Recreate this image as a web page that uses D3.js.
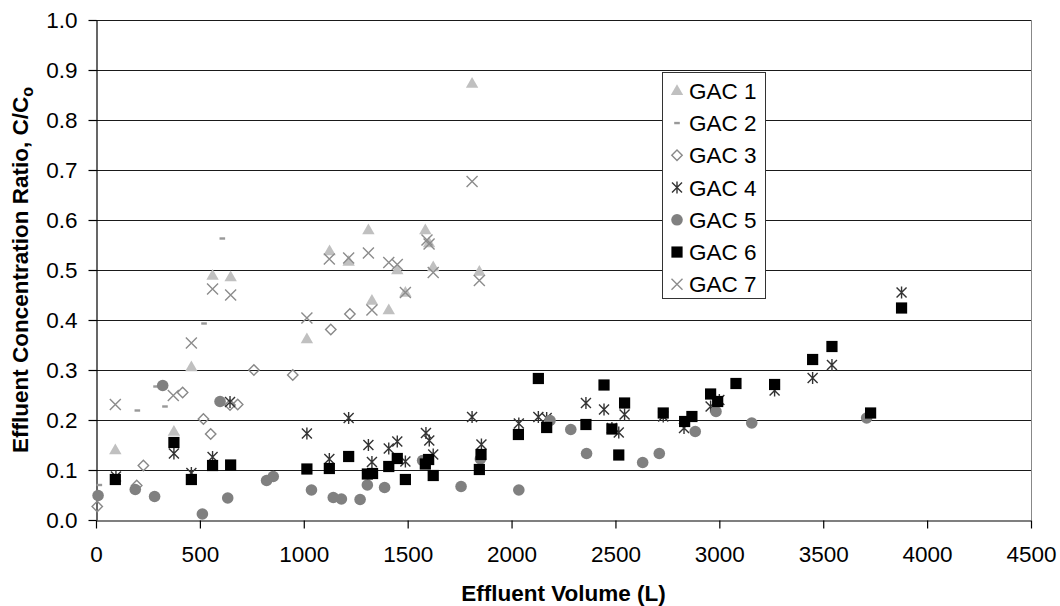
<!DOCTYPE html>
<html>
<head>
<meta charset="utf-8">
<script src="https://cdn.jsdelivr.net/npm/d3@7"></script>
<style>
  html, body { margin: 0; padding: 0; background: #fff; }
  svg { display: block; font-family: "Liberation Sans", Arial, Helvetica, sans-serif; }
</style>
</head>
<body>
<svg id="chart" width="1060" height="606"></svg>
<script>
// Effluent volume (L) vs. concentration ratio C/Co for each GAC column
const gac1 = [[93,0.14],[375,0.177],[459,0.306],[561,0.489],[648,0.486],[1015,0.362],[1124,0.538],[1216,0.517],[1311,0.58],[1328,0.439],[1409,0.42],[1450,0.50],[1489,0.455],[1585,0.58],[1603,0.554],[1623,0.506],[1810,0.873],[1845,0.497]];
const gac2 = [[16,0.07],[199,0.219],[289,0.267],[332,0.227],[520,0.393],[608,0.563]];
const gac3 = [[6,0.027],[196,0.069],[228,0.109],[417,0.255],[517,0.202],[552,0.172],[645,0.23],[682,0.231],[760,0.30],[947,0.29],[1130,0.381],[1222,0.412]];
const gac4 = [[96,0.087],[375,0.133],[459,0.094],[561,0.126],[645,0.236],[1015,0.173],[1123,0.122],[1216,0.204],[1311,0.15],[1328,0.116],[1409,0.143],[1450,0.157],[1489,0.117],[1588,0.174],[1604,0.159],[1623,0.131],[1810,0.206],[1855,0.151],[2035,0.193],[2129,0.206],[2169,0.204],[2358,0.234],[2445,0.221],[2483,0.184],[2516,0.175],[2544,0.211],[2730,0.207],[2830,0.184],[2958,0.227],[3000,0.24],[3266,0.259],[3449,0.284],[3542,0.31],[3877,0.455]];
const gac5 = [[10,0.049],[189,0.061],[282,0.047],[321,0.269],[512,0.012],[597,0.237],[634,0.044],[821,0.079],[853,0.087],[1037,0.06],[1142,0.045],[1181,0.042],[1271,0.041],[1306,0.07],[1389,0.065],[1572,0.119],[1757,0.067],[1850,0.122],[2035,0.06],[2185,0.199],[2285,0.181],[2361,0.133],[2631,0.115],[2711,0.133],[2884,0.177],[2984,0.217],[3156,0.194],[3709,0.204]];
const gac6 = [[93,0.081],[375,0.155],[459,0.081],[561,0.109],[648,0.11],[1015,0.102],[1123,0.103],[1216,0.127],[1306,0.092],[1331,0.093],[1409,0.107],[1450,0.123],[1489,0.081],[1585,0.112],[1601,0.121],[1623,0.089],[1845,0.101],[1853,0.131],[2033,0.171],[2129,0.283],[2169,0.185],[2358,0.191],[2445,0.27],[2483,0.182],[2516,0.13],[2544,0.234],[2730,0.214],[2833,0.197],[2868,0.207],[2958,0.252],[2992,0.237],[3080,0.273],[3266,0.271],[3449,0.321],[3542,0.347],[3728,0.214],[3877,0.424]];
const gac7 = [[93,0.231],[372,0.249],[459,0.354],[561,0.462],[648,0.45],[1015,0.404],[1123,0.522],[1216,0.524],[1311,0.534],[1328,0.42],[1409,0.515],[1450,0.511],[1489,0.455],[1593,0.56],[1603,0.552],[1623,0.495],[1810,0.677],[1845,0.479]];

const seriesNames = ["GAC 1","GAC 2","GAC 3","GAC 4","GAC 5","GAC 6","GAC 7"];
const seriesData = [gac1, gac2, gac3, gac4, gac5, gac6, gac7];
const xTicks = [0,500,1000,1500,2000,2500,3000,3500,4000,4500];
const yTicks = [0,0.1,0.2,0.3,0.4,0.5,0.6,0.7,0.8,0.9,1.0];

const svg = d3.select("#chart");
const plotLeft = 96, plotRight = 1031, plotTop = 20, plotBottom = 520;
const labelSize = 22.5;

const x = d3.scaleLinear().domain([0, 4500]).range([plotLeft, plotRight]);
const y = d3.scaleLinear().domain([0, 1]).range([plotBottom, plotTop]);

// horizontal gridlines
svg.append("g")
  .selectAll("line")
  .data(yTicks.filter(d => d > 0))
  .join("line")
  .attr("x1", plotLeft).attr("x2", plotRight)
  .attr("y1", d => Math.round(y(d)) + 0.5).attr("y2", d => Math.round(y(d)) + 0.5)
  .attr("stroke", "#1a1a1a").attr("stroke-width", 1);

// right border of plot area
svg.append("line")
  .attr("x1", plotRight + 0.5).attr("x2", plotRight + 0.5)
  .attr("y1", plotTop).attr("y2", plotBottom)
  .attr("stroke", "#888").attr("stroke-width", 1);

// axes
const xAxis = d3.axisBottom(x).tickValues(xTicks).tickFormat(d3.format("d")).tickSizeInner(8).tickSizeOuter(0).tickPadding(18);
const yAxis = d3.axisLeft(y).tickValues(yTicks).tickFormat(d3.format(".1f")).tickSizeInner(8).tickSizeOuter(0).tickPadding(11);

const gx = svg.append("g").attr("transform", `translate(0,${plotBottom + 0.5})`).call(xAxis);
const gy = svg.append("g").attr("transform", `translate(${plotLeft + 0.5},0)`).call(yAxis);
[gx, gy].forEach(g => {
  g.selectAll("path.domain").attr("stroke", "#000").attr("stroke-width", 1.2);
  g.selectAll(".tick line").attr("stroke", "#000").attr("stroke-width", 1.2);
  g.selectAll(".tick text").attr("font-size", labelSize).attr("fill", "#000")
    .attr("font-family", "'Liberation Sans', Arial, sans-serif");
});

// axis titles
svg.append("text")
  .attr("x", (plotLeft + plotRight) / 2).attr("y", 601)
  .attr("text-anchor", "middle")
  .attr("font-size", labelSize).attr("font-weight", "bold")
  .text("Effluent Volume (L)");

const yt = svg.append("text")
  .attr("transform", `translate(28,${(plotTop + plotBottom) / 2}) rotate(-90)`)
  .attr("text-anchor", "middle")
  .attr("font-size", labelSize).attr("font-weight", "bold");
yt.append("tspan").text("Effluent Concentration Ratio, C/C");
yt.append("tspan").attr("font-size", 16).attr("dy", 5).text("o");

// marker painters
const markers = [
  // GAC 1: light grey filled triangle
  g => g.append("path").attr("d", "M0,-6.5L6.2,4.3L-6.2,4.3Z").attr("fill", "#c0c0c0"),
  // GAC 2: short dash
  g => g.append("rect").attr("x", -2.8).attr("y", -1.2).attr("width", 5.6).attr("height", 2.4).attr("fill", "#999"),
  // GAC 3: open diamond
  g => g.append("path").attr("d", "M0,-5.2L5.2,0L0,5.2L-5.2,0Z").attr("fill", "none").attr("stroke", "#888").attr("stroke-width", 1.4),
  // GAC 4: star (x plus vertical bar)
  g => g.append("path").attr("d", "M-5,-5L5,5M-5,5L5,-5M0,-6L0,6").attr("fill", "none").attr("stroke", "#333").attr("stroke-width", 1.4),
  // GAC 5: grey filled circle
  g => g.append("circle").attr("r", 5.8).attr("fill", "#808080"),
  // GAC 6: black square
  g => g.append("rect").attr("x", -5.6).attr("y", -5.6).attr("width", 11.2).attr("height", 11.2).attr("fill", "#000"),
  // GAC 7: grey x
  g => g.append("path").attr("d", "M-5.5,-5.5L5.5,5.5M-5.5,5.5L5.5,-5.5").attr("fill", "none").attr("stroke", "#8c8c8c").attr("stroke-width", 1.4)
];

// data points, series drawn in order so later series sit on top
seriesData.forEach((data, i) => {
  svg.append("g").attr("class", "series-" + (i + 1))
    .selectAll("g")
    .data(data)
    .join("g")
    .attr("transform", d => `translate(${x(d[0])},${y(d[1])})`)
    .each(function() { markers[i](d3.select(this)); });
});

// legend
const legend = svg.append("g");
legend.append("rect")
  .attr("x", 662.5).attr("y", 72.5).attr("width", 103).attr("height", 226)
  .attr("fill", "#fff").attr("stroke", "#333").attr("stroke-width", 1);
seriesNames.forEach((name, i) => {
  const cy = 90.8 + i * 32.25;
  const mg = legend.append("g").attr("transform", `translate(677,${cy})`);
  markers[i](mg);
  legend.append("text")
    .attr("x", 689).attr("y", cy).attr("dy", "0.36em")
    .attr("font-size", 22.5).text(name);
});
</script>
</body>
</html>
